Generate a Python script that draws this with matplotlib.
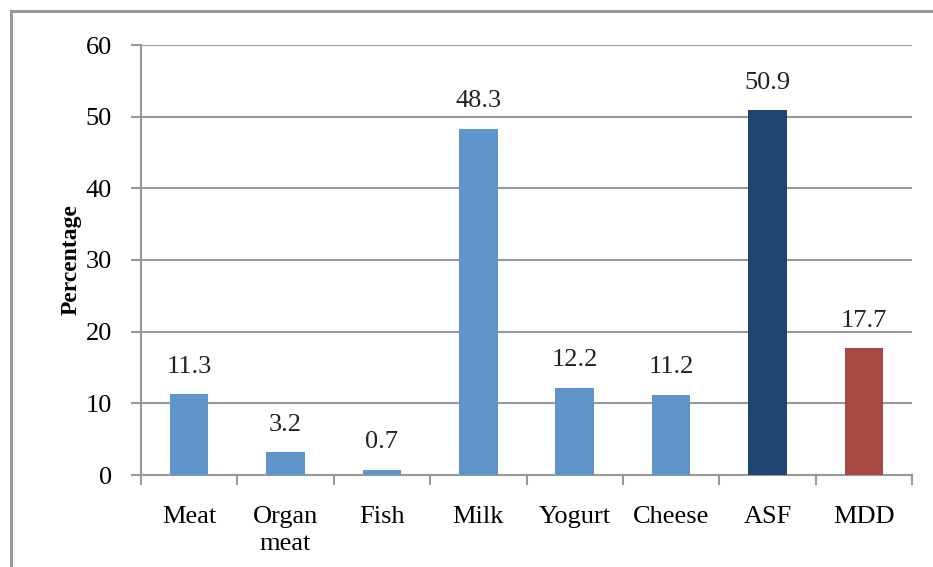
import matplotlib
matplotlib.use("Agg")
import matplotlib.pyplot as plt
from matplotlib.patches import Rectangle

categories = ["Meat", "Organ\nmeat", "Fish", "Milk", "Yogurt", "Cheese", "ASF", "MDD"]
values = [11.3, 3.2, 0.7, 48.3, 12.2, 11.2, 50.9, 17.7]
colors = ["#5F95CB"] * 6 + ["#1E4670", "#A84A44"]
yticks = [0, 10, 20, 30, 40, 50, 60]

plt.rcParams['font.family'] = ['Liberation Serif', 'DejaVu Serif']

fig = plt.figure(figsize=(9.33, 5.67), dpi=100)
fig.patches.append(Rectangle((11/933, -0.05), 1.2, 1 - (-0.05) - 11/567, transform=fig.transFigure,
                             fill=False, edgecolor="#999999", linewidth=2.2))
ax = fig.add_axes([141/933, 1 - 475/567, (912 - 141)/933, (475 - 45)/567])

x = list(range(len(categories)))
ax.bar(x, values, width=0.4, color=colors, zorder=3)
for xi, v in zip(x, values):
    ax.text(xi, v + 2.3, f"{v}", ha="center", va="bottom", fontsize=19, color="#222222")

ax.set_xlim(-0.5, len(categories) - 0.5)
ax.set_ylim(0, 60)
ax.set_yticks(yticks)
ax.set_yticklabels([str(t) for t in yticks], fontsize=19)
ax.yaxis.grid(True, color="#999999", linewidth=1.5, zorder=0)
ax.set_axisbelow(True)

ax.set_xticks(x)
ax.set_xticklabels(categories, fontsize=19, linespacing=1.3)
ax.tick_params(axis="x", length=0, pad=22)
ax.set_xticks([i - 0.5 for i in range(len(categories) + 1)], minor=True)
ax.tick_params(axis="x", which="minor", length=7, width=1.5, color="#999999", direction="out")
ax.tick_params(axis="y", length=7, width=1.5, color="#999999", pad=14)

for s in ["top", "right"]:
    ax.spines[s].set_visible(False)
for s in ["left", "bottom"]:
    ax.spines[s].set_color("#999999")
    ax.spines[s].set_linewidth(1.5)

ax.set_ylabel("Percentage", fontsize=17, fontweight="bold", labelpad=3)

fig.savefig("out.png", dpi=100)
